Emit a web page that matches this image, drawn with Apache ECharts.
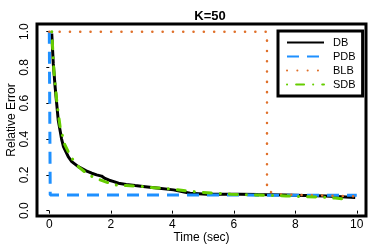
<!DOCTYPE html>
<html>
<head>
<meta charset="utf-8">
<script src="https://cdn.jsdelivr.net/npm/echarts@6/dist/echarts.min.js"></script>
<style>html,body{margin:0;padding:0;background:#fff}#c{width:374px;height:249px}</style>
</head>
<body>
<div id="c"></div>
<script>
var titleText = 'K=50';
var xTicks = [0, 2, 4, 6, 8, 10];
var yTicks = [0, 0.2, 0.4, 0.6, 0.8, 1.0];
var seriesNames = ['DB', 'PDB', 'BLB', 'SDB'];

var dbTime = [0.08, 0.13, 0.19, 0.29, 0.40, 0.46, 0.62, 0.73, 0.94, 1.0, 1.2, 1.38, 1.54, 1.7, 1.81, 1.95, 2.1, 2.25, 2.5, 2.79, 3.12, 3.5, 4.04, 4.58, 5.13, 5.6, 6.21, 6.8, 7.67, 8.3, 8.98, 9.5, 9.95];
var dbErr  = [0.99, 0.82, 0.69, 0.507, 0.40, 0.358, 0.30, 0.274, 0.246, 0.237, 0.222, 0.209, 0.20, 0.193, 0.18, 0.17, 0.162, 0.153, 0.146, 0.14, 0.134, 0.127, 0.116, 0.097, 0.092, 0.092, 0.092, 0.09, 0.088, 0.085, 0.082, 0.078, 0.073];

var pdbTime = [0, 0.03, 10];
var pdbErr  = [1.0, 0.088, 0.086];

var blbTime = [0, 7.08, 7.08, 7.5, 8, 9, 10];
var blbErr  = [1.0, 1.0, 0.11, 0.09, 0.088, 0.084, 0.08];

var sdbTime = [0.08, 0.15, 0.25, 0.35, 0.5, 0.7, 0.95, 1.27, 1.6, 1.81, 2.14, 2.5, 3.0, 3.5, 4.0, 4.5, 4.9, 5.4, 5.9, 6.5, 7.2, 7.7, 8.3, 8.9, 9.3, 9.63, 9.8];
var sdbErr  = [1.0, 0.78, 0.6, 0.47, 0.37, 0.30, 0.245, 0.2, 0.175, 0.162, 0.143, 0.14, 0.135, 0.127, 0.12, 0.11, 0.103, 0.097, 0.092, 0.088, 0.085, 0.082, 0.078, 0.075, 0.07, 0.065, 0.065];

function pairs(t, v) { return t.map(function (x, i) { return [x, v[i]]; }); }

var font = 'Liberation Sans, Arial, sans-serif';
var chart = echarts.init(document.getElementById('c'), null, {renderer: 'canvas'});
chart.setOption({
  animation: false,
  backgroundColor: '#fff',
  title: {text: titleText, left: 205, top: 5, textAlign: 'center',
    textStyle: {fontFamily: font, fontSize: 13, fontWeight: 'bold', color: '#000'}},
  grid: {left: 37, right: 8, top: 24, bottom: 33, containLabel: false, outerBoundsMode: 'none',
    show: true, borderColor: '#000', borderWidth: 3, backgroundColor: 'transparent'},
  legend: {
    orient: 'vertical', left: 278, top: 31,
    backgroundColor: '#fff', borderColor: '#000', borderWidth: 3,
    padding: [6, 7, 6, 8], itemWidth: 37, itemHeight: 10, itemGap: 3,
    itemStyle: {opacity: 0},
    textStyle: {fontFamily: font, fontSize: 11, color: '#000', padding: [0, 0, 0, 4]},
    data: seriesNames
  },
  xAxis: {
    type: 'value', min: -0.4, max: 10.3,
    name: 'Time (sec)', nameLocation: 'middle', nameGap: 16, nameMoveOverlap: false,
    nameTextStyle: {fontFamily: font, fontSize: 12, color: '#000'},
    axisLine: {show: false},
    axisTick: {show: true, customValues: xTicks, length: 3, lineStyle: {color: '#000'}},
    axisLabel: {customValues: xTicks, margin: 3, fontFamily: font, fontSize: 12, color: '#000'},
    splitLine: {show: false}
  },
  yAxis: {
    type: 'value', min: -0.03, max: 1.043,
    name: 'Relative Error', nameLocation: 'middle', nameGap: 19, nameMoveOverlap: false,
    nameTextStyle: {fontFamily: font, fontSize: 12, color: '#000'},
    axisLine: {show: false},
    axisTick: {show: true, customValues: yTicks, length: 3, lineStyle: {color: '#000'}},
    axisLabel: {customValues: yTicks, rotate: 90, margin: 6, fontFamily: font, fontSize: 12, color: '#000',
      formatter: function (v) { return v.toFixed(1); }},
    splitLine: {show: false}
  },
  series: [
    {name: 'DB', type: 'line', data: pairs(dbTime, dbErr), symbol: 'none', z: 2,
      lineStyle: {color: '#000', width: 3}, itemStyle: {color: '#000'}},
    {name: 'PDB', type: 'line', data: pairs(pdbTime, pdbErr), symbol: 'none', z: 3,
      lineStyle: {color: '#1E90FF', width: 3, type: [12, 8]}, itemStyle: {color: '#1E90FF'}},
    {name: 'BLB', type: 'line', data: pairs(blbTime, blbErr), symbol: 'none', z: 4,
      lineStyle: {color: '#E0702A', width: 2.5, type: [0.1, 10.2], cap: 'round'}, itemStyle: {color: '#E0702A'}},
    {name: 'SDB', type: 'line', data: pairs(sdbTime, sdbErr), symbol: 'none', z: 5,
      lineStyle: {color: '#66CD00', width: 3, type: [0.1, 9, 8, 9], cap: 'round'}, itemStyle: {color: '#66CD00'}}
  ]
});
</script>
</body>
</html>
